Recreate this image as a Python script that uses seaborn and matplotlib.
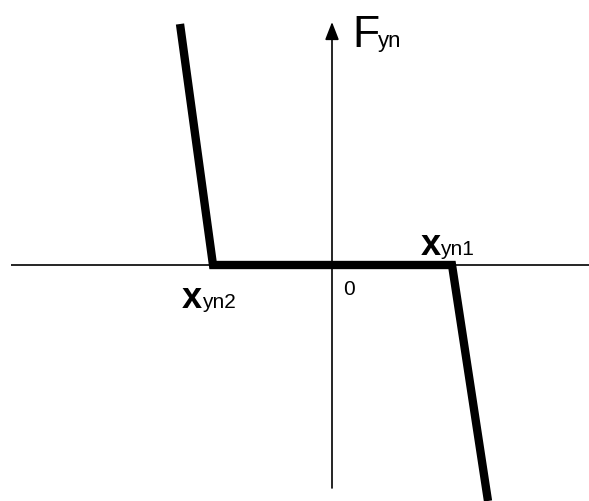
import numpy as np
import pandas as pd
import seaborn as sns
import matplotlib.pyplot as plt

# piecewise characteristic F_yn(x), origin at the axis crossing
x_pts = [-152, -119, 120, 156]
f_pts = [241, 0, 0, -236]

sns.set_theme(style="white")
plt.rcParams['font.family'] = ['Liberation Sans', 'DejaVu Sans']
plt.rcParams['text.color'] = 'black'

df = pd.DataFrame({'x': x_pts, 'F': f_pts})

fig = plt.figure(figsize=(5.89, 5.02), dpi=100)
ax = fig.add_axes([0, 0, 1, 1])
ax.set_xlim(-332, 257)
ax.set_ylim(-236, 266)
ax.axis('off')

# coordinate axes
ax.plot([-321, 257], [0, 0], color='black', lw=1.2, zorder=1)
ax.annotate('', xy=(0, 243), xytext=(0, -223),
            arrowprops=dict(arrowstyle='-|>,head_length=0.9,head_width=0.35',
                            color='black', lw=1.2, shrinkA=0, shrinkB=0))

sns.lineplot(data=df, x='x', y='F', sort=False, color='black', lw=6,
             ax=ax, zorder=3)
for line in ax.get_lines():
    line.set_solid_joinstyle('miter')
    line.set_solid_capstyle('butt')

# labels
ax.text(20, 219, 'F', fontsize=32, ha='left', va='baseline')
ax.text(46, 219, 'yn', fontsize=16, ha='left', va='baseline')
ax.text(89, 11, 'x', fontsize=26, fontweight='bold', ha='left', va='baseline')
ax.text(108, 11, 'yn1', fontsize=15, ha='left', va='baseline')
ax.text(-150, -42, 'x', fontsize=26, fontweight='bold', ha='left', va='baseline')
ax.text(-130, -42, 'yn2', fontsize=15, ha='left', va='baseline')
ax.text(11, -29, '0', fontsize=15, ha='left', va='baseline')

fig.savefig('out.png', dpi=100)
